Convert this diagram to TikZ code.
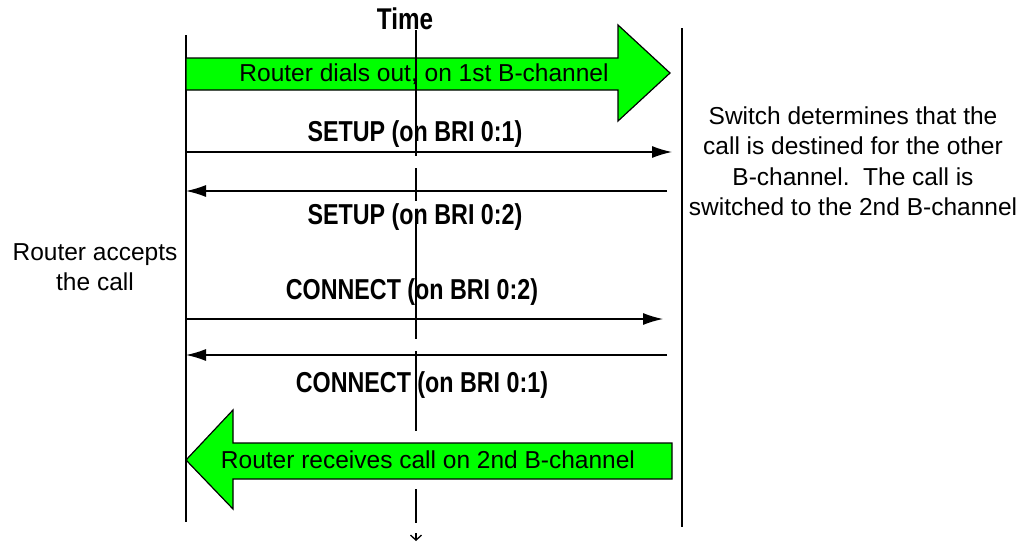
\documentclass[tikz,border=0pt]{standalone}
\usepackage{fontspec}
\setmainfont{Liberation Sans}
\usetikzlibrary{arrows.meta}
\definecolor{brightgreen}{RGB}{0,255,0}
\newcommand{\tallbf}[1]{\scalebox{0.97}[1.2]{\bfseries #1}}
\tikzset{
	lifeline/.style={line width=1.4pt},
	msg/.style={line width=1.3pt,-{Latex[length=20pt,width=12pt]}},
	bigarrow/.style={fill=brightgreen,draw=black,line width=1.2pt,line join=miter},
	lbl/.style={font=\fontsize{24}{28}\selectfont,inner sep=0pt},
	note/.style={font=\fontsize{24.5}{30.5}\selectfont,align=center,inner sep=0pt}
}
\begin{document}
\begin{tikzpicture}[x=1pt,y=-1pt]
	\useasboundingbox (0,0) rectangle (1022,544);
	% lifelines
	\coordinate (rtop) at (186,35);
	\coordinate (rbot) at (186,522);
	\coordinate (stop) at (682,28);
	\coordinate (sbot) at (682,527);
	\draw [lifeline] (rtop) -- (rbot);
	\draw [lifeline] (stop) -- (sbot);

	% outgoing call
	\draw [bigarrow] (186,58) -- (618,58) -- (618,25) -- (670,73) -- (618,121) -- (618,90) -- (186,90) -- cycle;
	\node [note] (dial) at (424,74) {Router dials out, on 1st B-channel};

	% time axis
	\node [lbl,font=\fontsize{25}{28}\selectfont] (time) at (405,19) {\tallbf{Time}};
	\coordinate (ttop) at (416,30);
	\coordinate (tbot) at (416,541);
	\draw [line width=1.3pt,dash pattern=on 126pt off 12pt on 33pt off 8pt on 130pt off 12pt on 80pt off 58pt on 34pt off 10pt on 30pt,-{Straight Barb[length=5pt,width=11pt]}] (ttop) -- (tbot);

	% SETUP messages
	\coordinate (s1a) at (186,152);
	\coordinate (s1b) at (672,152);
	\coordinate (s2a) at (667,191);
	\coordinate (s2b) at (186,191);
	\node [lbl] (setup1) at (415,134) {\tallbf{SETUP (on BRI 0:1)}};
	\draw [msg] (s1a) -- (s1b);
	\draw [msg] (s2a) -- (s2b);
	\node [lbl] (setup2) at (415,217) {\tallbf{SETUP (on BRI 0:2)}};

	\node [note] (switch) at (853,161) {Switch determines that the\\call is destined for the other\\B-channel.\ \ The call is\\switched to the 2nd B-channel};
	\node [note] (accept) at (95,267) {Router accepts\\the call};

	% CONNECT messages
	\coordinate (c1a) at (186,319);
	\coordinate (c1b) at (663,319);
	\coordinate (c2a) at (667,355);
	\coordinate (c2b) at (186,355);
	\node [lbl] (conn1) at (412,292) {\tallbf{CONNECT (on BRI 0:2)}};
	\draw [msg] (c1a) -- (c1b);
	\draw [msg] (c2a) -- (c2b);
	\node [lbl] (conn2) at (422,385) {\tallbf{CONNECT (on BRI 0:1)}};

	% incoming call
	\draw [bigarrow] (672,443) -- (233,443) -- (233,410) -- (186,460) -- (233,509) -- (233,479) -- (672,479) -- cycle;
	\node [note] (recv) at (428,460) {Router receives call on 2nd B-channel};
\end{tikzpicture}
\end{document}
